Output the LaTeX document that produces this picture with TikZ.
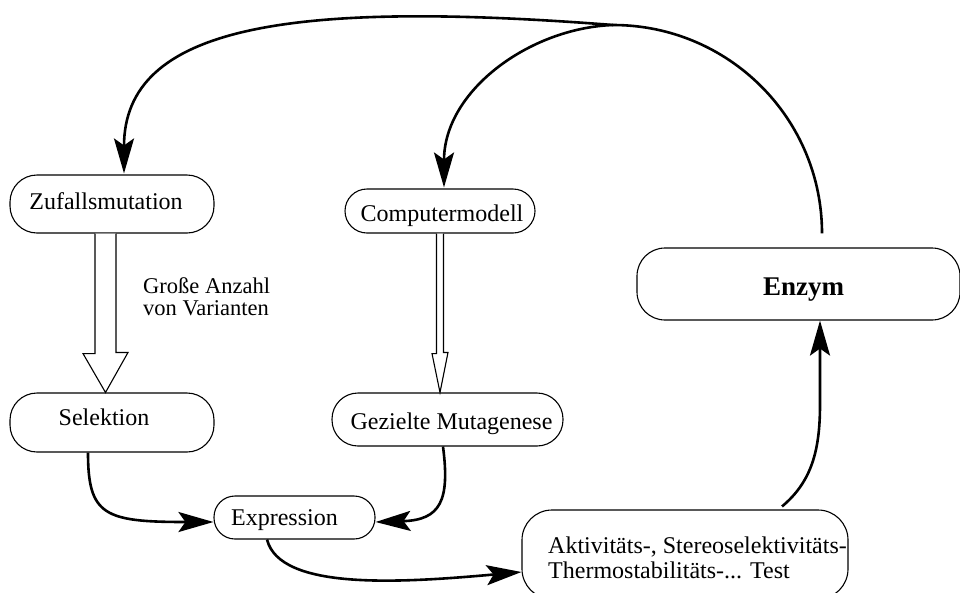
\documentclass[tikz,border=0pt]{standalone}
\usepackage{fontspec}
\setmainfont{Liberation Serif}
\usetikzlibrary{arrows.meta,calc}
% shift a label inside its box without changing the box size
\newcommand\placetext[3]{\hspace*{#1}\raisebox{#2}{#3}\hspace*{-#1}}
\begin{document}
\begin{tikzpicture}[x=1pt,y=-1pt,
  stage/.style={draw, line width=1.1pt, inner sep=0pt, fill=white,
    text height=17pt, text depth=6pt, font=\fontsize{24}{25}\selectfont},
  flow/.style={line width=2.6pt, -{Stealth[length=35pt,width=20pt,inset=7pt]}},
  hollow/.style={draw, line width=1.1pt, fill=white, line join=miter},
  plain/.style={inner sep=0pt, font=\fontsize{24}{25}\selectfont}]

\fill[white] (0,0) rectangle (960,592);
\useasboundingbox (0,0) rectangle (960,592);

% process stages
\node[stage, rounded corners=27pt, minimum width=204pt, minimum height=58pt]
  (zuf) at (112,204) {\placetext{-6pt}{0.5pt}{Zufallsmutation}};
\node[stage, rounded corners=27pt, minimum width=204pt, minimum height=59pt]
  (sel) at (112,422.5) {\placetext{-8pt}{3pt}{Selektion}};
\node[stage, rounded corners=22pt, minimum width=190pt, minimum height=44pt]
  (comp) at (440,211) {\placetext{2pt}{-5pt}{Computermodell}};
\node[stage, rounded corners=26pt, minimum width=231pt, minimum height=53pt]
  (gm) at (447.5,419.5) {\placetext{4pt}{-4pt}{Gezielte Mutagenese}};
\node[stage, rounded corners=21pt, minimum width=161pt, minimum height=43pt]
  (expr) at (294.5,517.5) {\placetext{-10pt}{-2pt}{Expression}};
\node[stage, rounded corners=28pt, minimum width=323pt, minimum height=72pt,
  text height=19pt, font=\fontsize{27}{28}\selectfont\bfseries]
  (enz) at (798.5,284) {\placetext{5pt}{-4.5pt}{Enzym}};
\node[stage, rounded corners=30pt, minimum width=326pt, minimum height=89pt]
  (akt) at (685,554.5) {};
\node[plain, anchor=base west] (aktt) at (548,553)
  {\begin{tabular}[t]{@{}l@{}}Aktivitäts-, Stereoselektivitäts-\\Thermostabilitäts-... Test\end{tabular}};

% side note of the broad arrow
\node[plain, anchor=base west, font=\fontsize{22.5}{22}\selectfont] (gav) at (143,293)
  {\begin{tabular}[t]{@{}l@{}}Große Anzahl\\von Varianten\end{tabular}};

% broad hollow arrows
\draw[hollow] ($(zuf.south)+(-17,0)$) -- ++(0,120) -- ++(-12,0)
  -- ($(sel.north)+(-6.5,0)$) -- ++(22.5,-40) -- ++(-12,0)
  -- ($(zuf.south)+(4,0)$);
\draw[hollow] ($(comp.south)+(-3.5,0)$) -- ++(0,120) -- ++(-4.5,0)
  -- ($(gm.north)+(-7.5,0)$) -- ++(8,-40) -- ++(-4.5,0)
  -- ($(comp.south)+(3.5,0)$);

% curved flow arrows
\draw[flow] ($(sel.south)+(-24,0)$) .. controls +(0,63) and +(-109,0)
  .. ($(expr.west)+(0,4.5)$);
\draw[flow] ($(gm.south)+(-4.5,0)$) .. controls +(7,54) and +(65,-2)
  .. ($(expr.east)+(0,4.5)$);
\draw[flow] ($(expr.south)+(-27.5,0)$) .. controls +(13,51) and +(-122,11)
  .. ($(akt.west)+(0,17.5)$);
\draw[flow] ($(akt.north)+(97,-3)$) .. controls +(30,-25) and +(0,45)
  .. ++(38,-102) -- ($(enz.south)+(21.5,0)$);

% feedback from the enzyme back to both mutation routes
\coordinate (top) at (613,25);
\draw[line width=2.6pt] ($(enz.north)+(23.5,-14)$) .. controls +(0,-115.4) and +(115.4,0) .. (top);
\draw[flow] (top) .. controls +(-323,-25) and +(0,-148) .. ($(zuf.north)+(12,-1)$);
\draw[flow] (top) .. controls +(-83,3) and +(0,-97) .. ($(comp.north)+(4,-1)$);
\end{tikzpicture}
\end{document}
